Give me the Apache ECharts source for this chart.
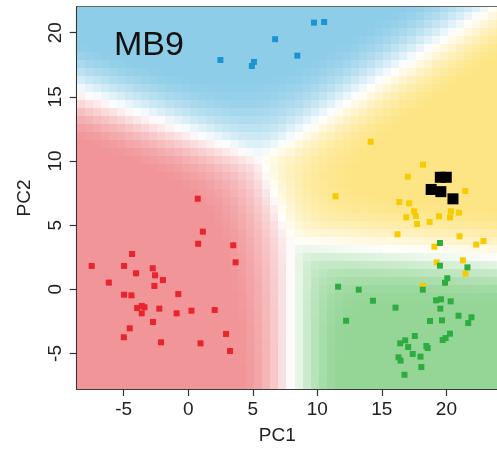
<!DOCTYPE html>
<html>
<head>
<meta charset="utf-8">
<style>
html, body { margin: 0; padding: 0; background: #fff; }
#chart { width: 497px; height: 454px; }
</style>
<script src="https://cdn.jsdelivr.net/npm/echarts@6/dist/echarts.min.js"></script>
</head>
<body>
<div id="chart"></div>
<script>
// PC1 / PC2 of each group
var redPts = [
    [-7.48, 1.82], [-4.97, 1.82], [-4.35, 2.75], [-6.15, 0.52], [-4.04, 1.25],
    [-2.75, 1.64], [-2.57, 1.09], [-1.96, 0.72], [-2.62, 0.26], [-4.97, -0.42],
    [-4.40, -0.47], [-0.77, -0.37], [-3.96, -1.46], [-3.60, -1.30], [-3.39, -1.40],
    [-3.60, -1.87], [-2.24, -1.51], [-0.90, -1.87], [0.25, -1.67], [2.05, -1.61],
    [-2.73, -2.55], [-4.53, -3.04], [-4.99, -3.74], [-2.11, -4.13], [0.95, -4.21],
    [2.93, -3.48], [3.24, -4.81], [0.77, 3.55], [1.13, 4.49], [3.49, 3.43],
    [3.67, 2.10], [0.74, 7.06]
];
var bluePts = [
    [2.49, 17.87], [9.74, 20.78], [10.53, 20.83], [6.73, 19.49], [8.45, 18.21],
    [5.09, 17.72], [4.93, 17.40]
];
var yellowPts = [
    [14.13, 11.50], [11.41, 7.25], [18.19, 9.71], [17.01, 8.78], [21.46, 7.66],
    [16.35, 6.80], [17.12, 6.70], [17.50, 6.08], [17.63, 5.71], [16.89, 5.61],
    [17.73, 5.09], [18.70, 5.25], [19.43, 5.69], [20.35, 6.08], [20.28, 5.61],
    [20.97, 5.97], [16.21, 4.29], [21.02, 4.13], [19.07, 3.32], [22.31, 3.48],
    [22.87, 3.76], [21.28, 2.26], [19.25, 2.10], [21.48, 1.22], [18.17, 0.28]
];
var greenPts = [
    [19.50, 3.61], [19.50, 1.84], [21.63, 1.71], [20.07, 0.86], [19.89, 0.51],
    [11.61, 0.20], [13.21, -0.03], [18.17, -0.03], [14.31, -0.89], [19.20, -0.86],
    [19.58, -0.78], [20.33, -0.94], [16.06, -1.43], [19.53, -1.51], [12.23, -2.45],
    [18.73, -2.47], [19.66, -2.42], [20.94, -2.06], [21.94, -2.18], [21.69, -2.63],
    [17.55, -3.64], [16.81, -3.98], [16.42, -4.21], [17.04, -4.50], [18.45, -4.42],
    [18.55, -4.58], [20.28, -3.46], [19.94, -3.80], [19.71, -3.95], [17.39, -5.04],
    [17.99, -5.25], [16.29, -5.30], [16.45, -5.56], [18.06, -6.06], [16.75, -6.66]
];
var mb9Pts = [
    [19.53, 8.73], [19.99, 8.73], [18.82, 7.78], [19.57, 7.61], [20.51, 7.05]
];

var xTicks = [-5, 0, 5, 10, 15, 20];
var yTicks = [-5, 0, 5, 10, 15, 20];
var xRange = [-8.64, 23.92];
var yRange = [-7.77, 22.0];

// 背景分区中心 (red, blue, yellow, green)
var regionCentres = [[-1.5, -0.5], [7.15, 22.95], [18, 6.5], [17.5, -0.5]];
var regionColors = ['#f19598', '#8ecde8', '#fde585', '#95d697'];
var pointColors = ['#e8242c', '#1c94d2', '#f8cb00', '#2fac40'];

var chart = echarts.init(document.getElementById('chart'));

var hexRgb = function(h) {
    return [parseInt(h.substr(1, 2), 16), parseInt(h.substr(3, 2), 16), parseInt(h.substr(5, 2), 16)];
};
var regionRgb = regionColors.map(hexRgb);

// 背景颜色：最近中心的颜色，越靠近分界越淡
var cellColor = function(x, y) {
    var d2 = [], best = 0;
    for (var k = 0; k < regionCentres.length; k++) {
        var dx = x - regionCentres[k][0], dy = y - regionCentres[k][1];
        d2[k] = dx * dx + dy * dy;
        if (d2[k] < d2[best]) best = k;
    }
    var inv = 0;
    for (var j = 0; j < regionCentres.length; j++) {
        if (j === best) continue;
        var ex = regionCentres[j][0] - regionCentres[best][0];
        var ey = regionCentres[j][1] - regionCentres[best][1];
        var s = (d2[j] - d2[best]) / (2 * Math.sqrt(ex * ex + ey * ey));
        inv += 1 / Math.pow(Math.max(s, 1e-3), 2);
    }
    var t = Math.min(1, Math.pow(inv, -0.5) / 3.4);
    var a = Math.max(0.05, 1 - Math.pow(1 - t, 1.6));
    var c = regionRgb[best];
    return 'rgb(' + Math.round(255 + (c[0] - 255) * a) + ',' +
        Math.round(255 + (c[1] - 255) * a) + ',' +
        Math.round(255 + (c[2] - 255) * a) + ')';
};

var cells = [];
var step = 0.625;
for (var cx = xRange[0]; cx < xRange[1]; cx += step) {
    for (var cy = yRange[0]; cy < yRange[1]; cy += step) {
        cells.push([cx, cy, cx + step, cy + step]);
    }
}

var renderCell = function(params, api) {
    var p0 = api.coord([api.value(0), api.value(1)]);
    var p1 = api.coord([api.value(2), api.value(3)]);
    var x0 = Math.round(p0[0]), x1 = Math.round(p1[0]);
    var y0 = Math.round(p1[1]), y1 = Math.round(p0[1]);
    return {
        type: 'rect',
        shape: { x: x0, y: y0, width: x1 - x0, height: y1 - y0 },
        style: { fill: cellColor((api.value(0) + api.value(2)) / 2, (api.value(1) + api.value(3)) / 2) }
    };
};

var font = 'Liberation Sans';
var axisColor = '#333';

var pointSeries = function(data, color, size) {
    return {
        type: 'scatter',
        symbol: 'rect',
        symbolSize: size,
        itemStyle: { color: color, opacity: 1 },
        data: data,
        z: 3
    };
};

chart.setOption({
    animation: false,
    title: {
        text: 'MB9',
        left: 114,
        top: 29,
        padding: 0,
        textStyle: { fontSize: 34, fontWeight: 'normal', color: '#111', fontFamily: font }
    },
    grid: {
        left: 76.7,
        right: -2,
        top: 7,
        bottom: 65,
        show: true,
        borderColor: axisColor,
        borderWidth: 1.5,
        backgroundColor: 'transparent'
    },
    xAxis: {
        type: 'value',
        min: xRange[0],
        max: xRange[1],
        name: 'PC1',
        nameLocation: 'middle',
        nameGap: 37,
        nameTextStyle: { fontSize: 19, color: '#222', fontFamily: font, padding: [0, 19, 0, 0] },
        axisLine: { show: true, onZero: false, lineStyle: { color: axisColor, width: 1.5 } },
        axisTick: { show: true, customValues: xTicks, length: 7, lineStyle: { color: axisColor, width: 1.2 } },
        axisLabel: { customValues: xTicks, fontSize: 19, color: '#222', fontFamily: font, margin: 11 },
        splitLine: { show: false }
    },
    yAxis: {
        type: 'value',
        min: yRange[0],
        max: yRange[1],
        name: 'PC2',
        nameLocation: 'middle',
        nameGap: 42,
        nameTextStyle: { fontSize: 19, color: '#222', fontFamily: font },
        axisLine: { show: true, onZero: false, lineStyle: { color: axisColor, width: 1.5 } },
        axisTick: { show: true, customValues: yTicks, length: 7, lineStyle: { color: axisColor, width: 1.2 } },
        axisLabel: { customValues: yTicks, rotate: 90, fontSize: 19, color: '#222', fontFamily: font, margin: 11 },
        splitLine: { show: false }
    },
    series: [
        {
            type: 'custom',
            renderItem: renderCell,
            data: cells,
            clip: true,
            silent: true,
            z: 1
        },
        pointSeries(redPts, pointColors[0], 6),
        pointSeries(bluePts, pointColors[1], 6),
        pointSeries(yellowPts, pointColors[2], 6),
        pointSeries(greenPts, pointColors[3], 6),
        pointSeries(mb9Pts, '#000', 11)
    ]
});
</script>
</body>
</html>
